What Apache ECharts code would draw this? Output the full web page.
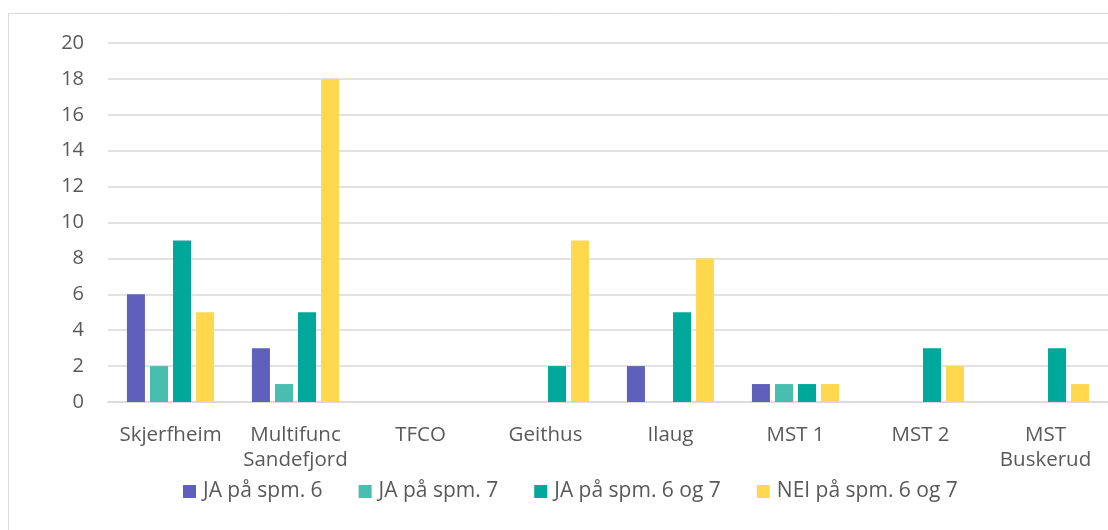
<!DOCTYPE html>
<html><head><meta charset="utf-8">
<script src="https://cdn.jsdelivr.net/npm/echarts@6/dist/echarts.min.js"></script>
<style>html,body{margin:0;padding:0;background:#fff}#c{width:1108px;height:530px}</style>
</head><body><div id="c"></div>
<script>
const categories = ['Skjerfheim', 'Multifunc\nSandefjord', 'TFCO', 'Geithus', 'Ilaug', 'MST 1', 'MST 2', 'MST\nBuskerud'];
const seriesNames = ['JA på spm. 6', 'JA på spm. 7', 'JA på spm. 6 og 7', 'NEI på spm. 6 og 7'];
const jaSpm6 = [6, 3, 0, 0, 2, 1, 0, 0];
const jaSpm7 = [2, 1, 0, 0, 0, 1, 0, 0];
const jaSpm6og7 = [9, 5, 0, 2, 5, 1, 3, 3];
const neiSpm6og7 = [5, 18, 0, 9, 8, 1, 2, 1];
const yTicks = [0, 2, 4, 6, 8, 10, 12, 14, 16, 18, 20];
const colors = ['#5e60bc', '#48bdb0', '#00a79b', '#ffd84d'];
const font = '"Open Sans", sans-serif';
const chart = echarts.init(document.getElementById('c'));
const vals = [jaSpm6, jaSpm7, jaSpm6og7, neiSpm6og7];
chart.setOption({
  animation: false,
  graphic: [{type: 'rect', shape: {x: 8.5, y: 13.5, width: 1110, height: 530}, style: {fill: 'none', stroke: '#d9d9d9', lineWidth: 1}}],
  color: colors,
  legend: {
    top: 481, left: 183, itemWidth: 13, itemHeight: 13, itemGap: 36,
    icon: 'rect', padding: 0,
    textStyle: {fontFamily: font, fontSize: 21, color: '#595959', padding: [0, 0, 0, 2]},
    data: seriesNames
  },
  grid: {left: 108, right: -2, top: 43, bottom: 128},
  xAxis: {
    type: 'category', data: categories,
    axisLine: {lineStyle: {color: '#d9d9d9', width: 1.5}},
    axisTick: {show: false},
    axisLabel: {fontFamily: font, fontSize: 20.5, color: '#595959', margin: 21, lineHeight: 25, interval: 0}
  },
  yAxis: {
    type: 'value', min: yTicks[0], max: yTicks[yTicks.length - 1], interval: yTicks[1] - yTicks[0],
    axisLine: {show: false}, axisTick: {show: false},
    splitLine: {lineStyle: {color: '#d9d9d9', width: 1.5}},
    axisLabel: {fontFamily: font, fontSize: 20, color: '#595959', margin: 24}
  },
  series: seriesNames.map((n, i) => ({
    name: n, type: 'bar', data: vals[i], barWidth: 18, barGap: '28%',
    itemStyle: {color: colors[i]}
  }))
});
</script></body></html>
